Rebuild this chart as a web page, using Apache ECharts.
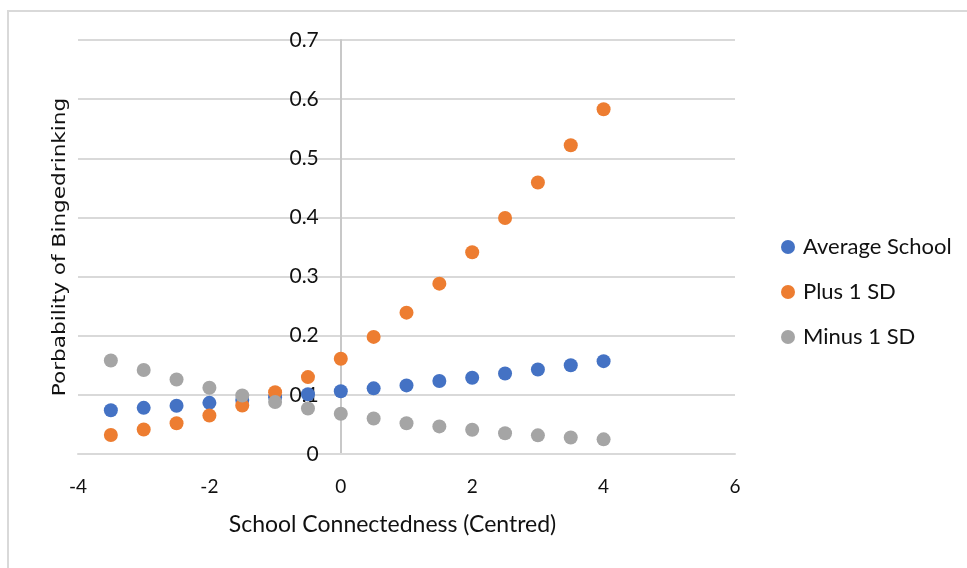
<!DOCTYPE html>
<html>
<head>
<meta charset="utf-8">
<script src="https://cdn.jsdelivr.net/npm/echarts@6/dist/echarts.min.js"></script>
<style>
html,body{margin:0;padding:0;background:#fff;}
#chart{width:967px;height:568px;}
</style>
</head>
<body>
<div id="chart"></div>
<script>
const xValues = [-3.5, -3, -2.5, -2, -1.5, -1, -0.5, 0, 0.5, 1, 1.5, 2, 2.5, 3, 3.5, 4];
const averageSchool = [0.074, 0.078, 0.0815, 0.0865, 0.0915, 0.096, 0.101, 0.106, 0.111, 0.116, 0.1235, 0.129, 0.136, 0.143, 0.150, 0.157];
const plus1SD = [0.032, 0.0415, 0.052, 0.065, 0.082, 0.1045, 0.130, 0.161, 0.198, 0.239, 0.288, 0.341, 0.399, 0.459, 0.522, 0.583];
const minus1SD = [0.158, 0.142, 0.126, 0.112, 0.099, 0.088, 0.077, 0.068, 0.060, 0.052, 0.0467, 0.041, 0.035, 0.0315, 0.028, 0.0248];
const seriesNames = ['Average School', 'Plus 1 SD', 'Minus 1 SD'];
const xTitle = 'School Connectedness (Centred)';
const yTitle = 'Porbability of Bingedrinking';

const colors = ['#4472C4', '#ED7D31', '#A5A5A5'];
const textColor = '#111111';
const font = 'Lato, "Open Sans", sans-serif';

function pairs(ys) { return xValues.map((x, i) => [x, ys[i]]); }

const gridLeft = 78, gridRight = 232, chartWidth = 967;
const xMin = -4, xMax = 6;
// shift the y axis (line + labels) so it crosses the x axis at 0, like Excel
const yAxisOffset = -((0 - xMin) / (xMax - xMin)) * (chartWidth - gridLeft - gridRight);

const chart = echarts.init(document.getElementById('chart'), null, {renderer: 'canvas'});
chart.setOption({
  backgroundColor: '#ffffff',
  animation: false,
  color: colors,
  grid: {left: gridLeft, right: gridRight, top: 40, bottom: 114, containLabel: false},
  xAxis: {
    type: 'value', min: xMin, max: xMax, interval: 2,
    name: xTitle, nameLocation: 'middle', nameGap: 59,
    nameTextStyle: {fontFamily: font, fontSize: 23, color: textColor, padding: [0, 28, 0, 0]},
    axisLine: {show: true, onZero: false, lineStyle: {color: '#d9d9d9', width: 2}},
    axisTick: {show: false},
    axisLabel: {fontFamily: font, fontSize: 19, color: textColor, margin: 23},
    splitLine: {show: false}
  },
  yAxis: {
    type: 'value', min: 0, max: 0.7, interval: 0.1,
    position: 'left', offset: yAxisOffset,
    axisLine: {show: true, onZero: false, lineStyle: {color: '#c8c8c8', width: 2}},
    axisTick: {show: false},
    axisLabel: {fontFamily: font, fontSize: 21, color: textColor, margin: 22},
    splitLine: {show: true, lineStyle: {color: '#d9d9d9', width: 2}}
  },
  legend: {
    orient: 'vertical', left: 781, top: 236, padding: 0,
    itemWidth: 14, itemHeight: 14, itemGap: 23, icon: 'circle',
    data: seriesNames,
    textStyle: {fontFamily: font, fontSize: 22, lineHeight: 22, color: textColor, padding: [0, 0, 0, 3]}
  },
  graphic: [
    {type: 'rect', z: -10, silent: true, shape: {x: 8, y: 11, width: 1000, height: 600},
     style: {fill: 'none', stroke: '#d9d9d9', lineWidth: 2}},
    {type: 'text', x: 60, y: 247, rotation: Math.PI / 2, scaleX: 1.2, scaleY: 1,
     style: {text: yTitle, fontFamily: '"DejaVu Sans", sans-serif', fontSize: 18, fill: textColor,
             align: 'center', verticalAlign: 'middle', textAlign: 'center', textVerticalAlign: 'middle'}}
  ],
  series: seriesNames.map((name, i) => ({
    name: name, type: 'scatter', symbol: 'circle', symbolSize: 14,
    itemStyle: {opacity: 1},
    data: pairs([averageSchool, plus1SD, minus1SD][i])
  }))
});
</script>
</body>
</html>
